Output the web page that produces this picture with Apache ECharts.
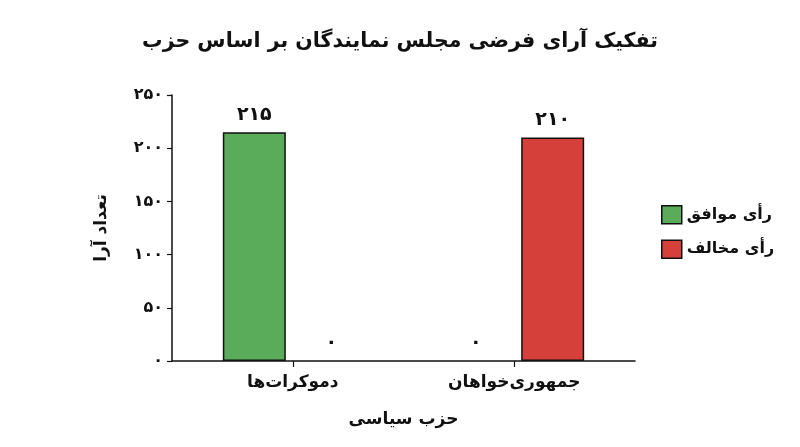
<!DOCTYPE html>
<html>
<head>
<meta charset="utf-8">
<script src="https://cdn.jsdelivr.net/npm/echarts@6/dist/echarts.min.js"></script>
<style>html,body{margin:0;padding:0;background:#fff}#c{width:800px;height:447px}</style>
</head>
<body>
<div id="c"></div>
<script>
var titleText = 'تفکیک آرای فرضی مجلس نمایندگان بر اساس حزب';
var categories = ['دموکرات‌ها', 'جمهوری‌خواهان'];
var seriesNames = ['رأی موافق', 'رأی مخالف'];
var agreeVotes = [215, 0];
var opposeVotes = [0, 210];
var yAxisName = 'تعداد آرا';
var xAxisName = 'حزب سیاسی';

function fa(n) {
  return String(n).replace(/[0-9]/g, function (d) { return '۰۱۲۳۴۵۶۷۸۹'[+d]; });
}
function items(arr) {
  return arr.map(function (v) {
    return v === 0 ? { value: v, itemStyle: { borderWidth: 0 } } : v;
  });
}
var FONT = 'DejaVu Sans';
var labelStyle = { show: true, position: 'top', distance: 8, fontFamily: FONT, fontSize: 19,
  fontWeight: 'bold', color: '#111', formatter: function (p) { return fa(p.value); } };
var chart = echarts.init(document.getElementById('c'));
chart.setOption({
  animation: false,
  backgroundColor: '#fff',
  textStyle: { fontFamily: FONT },
  title: {
    text: titleText, left: 'center', top: 26,
    textStyle: { fontFamily: FONT, fontSize: 20.5, fontWeight: 'bold', color: '#111' }
  },
  legend: {
    orient: 'vertical', left: 656, top: 200, itemWidth: 20, itemHeight: 18, itemGap: 15,
    icon: 'rect',
    data: seriesNames,
    itemStyle: { borderColor: '#111', borderWidth: 1.5 },
    textStyle: { fontFamily: FONT, fontSize: 16, fontWeight: 'bold', color: '#111' }
  },
  grid: [
    { left: 182, right: 175, top: 95, bottom: 86 },
    { left: 172, right: 165, top: 95, bottom: 86 }
  ],
  xAxis: [
    {
      type: 'category', data: categories, gridIndex: 0,
      name: xAxisName, nameLocation: 'middle', nameGap: 50,
      nameTextStyle: { fontFamily: FONT, fontSize: 17, fontWeight: 'bold', color: '#111' },
      axisLine: { show: false },
      axisTick: { show: true, alignWithLabel: true, length: 6, lineStyle: { color: '#111', width: 1.2 } },
      axisLabel: { fontFamily: FONT, fontSize: 17, fontWeight: 'bold', color: '#111', margin: 13 }
    },
    {
      type: 'value', gridIndex: 1, min: 0, max: 1,
      axisLine: { show: true, lineStyle: { color: '#111', width: 1.5 } },
      axisTick: { show: false }, axisLabel: { show: false }, splitLine: { show: false }
    }
  ],
  yAxis: [
    {
      type: 'value', gridIndex: 0, min: 0, max: 250, interval: 50, offset: 10,
      name: yAxisName, nameLocation: 'middle', nameGap: 62, nameRotate: 90,
      nameTextStyle: { fontFamily: FONT, fontSize: 17, fontWeight: 'bold', color: '#111' },
      axisLine: { show: true, lineStyle: { color: '#111', width: 1.5 } },
      axisTick: { show: true, length: 5, lineStyle: { color: '#111', width: 1.2 } },
      splitLine: { show: false },
      axisLabel: { fontFamily: FONT, fontSize: 16, fontWeight: 'bold', color: '#111', margin: 9,
        formatter: function (v) { return fa(v); } }
    },
    { type: 'value', gridIndex: 1, show: false }
  ],
  series: [
    {
      name: seriesNames[0], type: 'bar', data: items(agreeVotes), barWidth: 63, barGap: '22%',
      xAxisIndex: 0, yAxisIndex: 0,
      itemStyle: { color: '#5aab5a', borderColor: '#111', borderWidth: 1.5 },
      label: labelStyle
    },
    {
      name: seriesNames[1], type: 'bar', data: items(opposeVotes), barWidth: 63,
      xAxisIndex: 0, yAxisIndex: 0,
      itemStyle: { color: '#d5403a', borderColor: '#111', borderWidth: 1.5 },
      label: labelStyle
    }
  ]
});
</script>
</body>
</html>
